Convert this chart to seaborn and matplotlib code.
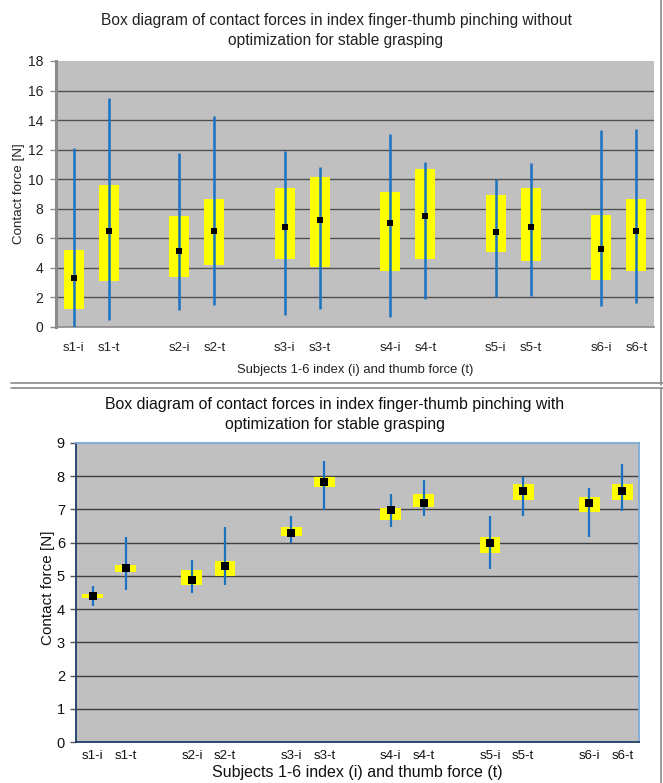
import numpy as np
import pandas as pd
import seaborn as sns
import matplotlib
matplotlib.use("Agg")
import matplotlib.pyplot as plt
from matplotlib.lines import Line2D

labels = ["s1-i", "s1-t", "s2-i", "s2-t", "s3-i", "s3-t",
          "s4-i", "s4-t", "s5-i", "s5-t", "s6-i", "s6-t"]

# without optimization
top_min = [0.0, 0.45, 1.13, 1.5, 0.8, 1.2, 0.68, 1.9, 2.03, 2.08, 1.42, 1.63]
top_q1 = [1.2, 3.1, 3.4, 4.18, 4.58, 4.06, 3.8, 4.58, 5.1, 4.47, 3.2, 3.8]
top_mean = [3.3, 6.5, 5.17, 6.5, 6.8, 7.23, 7.07, 7.5, 6.44, 6.8, 5.3, 6.5]
top_q3 = [5.24, 9.58, 7.5, 8.63, 9.4, 10.16, 9.15, 10.66, 8.9, 9.4, 7.59, 8.63]
top_max = [12.1, 15.5, 11.75, 14.25, 11.9, 10.8, 13.07, 11.18, 10.0, 11.09, 13.32, 13.4]

# with optimization
bot_min = [4.08, 4.57, 4.48, 4.72, 6.0, 6.98, 6.48, 6.8, 5.2, 6.8, 6.18, 6.96]
bot_q1 = [4.33, 5.12, 4.72, 5.0, 6.19, 7.67, 6.69, 7.06, 5.7, 7.28, 6.91, 7.28]
bot_mean = [4.4, 5.24, 4.89, 5.31, 6.29, 7.83, 6.98, 7.2, 5.99, 7.57, 7.2, 7.57]
bot_q3 = [4.45, 5.34, 5.19, 5.46, 6.47, 7.98, 7.04, 7.46, 6.17, 7.77, 7.37, 7.77]
bot_max = [4.69, 6.17, 5.47, 6.47, 6.8, 8.46, 7.46, 7.88, 6.8, 7.97, 7.65, 8.36]

sns.set_theme(style="white", rc={"axes.facecolor": "#c0c0c0"})
plt.rcParams["font.family"] = ["Liberation Sans", "DejaVu Sans"]

# two bars per subject, then an empty slot
pos = np.repeat(np.arange(6), 2) * 3 + np.tile([0, 1], 6)


def draw_panel(ax, lo, q1, mean, q3, hi, box_w, lw, ms, ymax, ystep, gridc):
    df = pd.DataFrame({"pos": pos, "lo": lo, "q1": q1, "mean": mean,
                       "q3": q3, "hi": hi})
    ax.set_xlim(-0.5, 16.5)
    ax.set_ylim(0, ymax)
    ax.set_yticks(np.arange(0, ymax + 0.01, ystep))
    for y in np.arange(ystep, ymax - 0.01, ystep):
        ax.axhline(y, color=gridc, lw=1.0, zorder=1)
    ax.bar(df["pos"], df["q3"] - df["q1"], bottom=df["q1"], width=box_w,
           color="#ffff00", linewidth=0, zorder=2)
    ax.vlines(df["pos"], df["lo"], df["hi"], color="#1a72c0", lw=lw, zorder=3)
    sns.scatterplot(data=df, x="pos", y="mean", marker="s", color="black",
                    s=ms, edgecolor="black", linewidth=0, zorder=4, ax=ax,
                    legend=False)
    ax.set_xticks(df["pos"])
    ax.set_xticklabels(labels)
    ax.set_xticks(np.arange(-0.5, 17, 1), minor=True)
    ax.tick_params(axis="x", which="major", length=0)
    ax.tick_params(axis="x", which="minor", length=4, width=1)
    ax.tick_params(axis="y", length=4, width=1, left=True)
    ax.set_xlabel("")
    ax.set_ylabel("")


fig = plt.figure(figsize=(6.63, 7.83), dpi=100)

ax1 = fig.add_axes([56 / 663, 456 / 783, 598 / 663, 266 / 783])
draw_panel(ax1, top_min, top_q1, top_mean, top_q3, top_max,
           0.57, 1.8, 18, 18, 2, "#505050")
for s in ["top", "right"]:
    ax1.spines[s].set_visible(False)
ax1.spines["left"].set_color("#8a8a8a")
ax1.spines["left"].set_linewidth(2.2)
ax1.spines["bottom"].set_color("#8a8a8a")
ax1.spines["bottom"].set_linewidth(1.2)
ax1.tick_params(axis="both", which="both", colors="#8a8a8a", labelcolor="#222222",
                labelsize=10, pad=5)
ax1.tick_params(axis="x", which="major", labelsize=9.5, pad=11)

ax2 = fig.add_axes([76 / 663, 41 / 783, 563 / 663, 299 / 783])
draw_panel(ax2, bot_min, bot_q1, bot_mean, bot_q3, bot_max,
           0.63, 1.6, 28, 9, 1, "#404040")
ax2.spines["left"].set_color("#1f3d66")
ax2.spines["bottom"].set_color("#1f3d66")
ax2.spines["top"].set_color("#7aaad8")
ax2.spines["right"].set_color("#7aaad8")
for s in ax2.spines.values():
    s.set_linewidth(1.3)
ax2.tick_params(axis="both", which="both", colors="#555555", labelcolor="#111111",
                labelsize=10.5, pad=4)
ax2.tick_params(axis="x", which="major", labelsize=9.5, pad=6)

# titles and axis labels
fig.text(336 / 663, 1 - 20 / 783,
         "Box diagram of contact forces in index finger-thumb pinching without",
         ha="center", va="center", fontsize=11.2, color="#222222")
fig.text(336 / 663, 1 - 40 / 783, "optimization for stable grasping",
         ha="center", va="center", fontsize=11.2, color="#222222")
fig.text(19 / 663, 1 - 194 / 783, "Contact force [N]", rotation=90,
         ha="center", va="center", fontsize=9.6, color="#222222")
fig.text(355 / 663, 1 - 370 / 783, "Subjects 1-6 index (i) and thumb force (t)",
         ha="center", va="center", fontsize=9.4, color="#222222")

fig.text(335 / 663, 1 - 405 / 783,
         "Box diagram of contact forces in index finger-thumb pinching with",
         ha="center", va="center", fontsize=11.4, color="#111111")
fig.text(335 / 663, 1 - 425 / 783, "optimization for stable grasping",
         ha="center", va="center", fontsize=11.4, color="#111111")
fig.text(48 / 663, 1 - 588 / 783, "Contact force [N]", rotation=90,
         ha="center", va="center", fontsize=11, color="#111111")
fig.text(357 / 663, 1 - 773 / 783, "Subjects 1-6 index (i) and thumb force (t)",
         ha="center", va="center", fontsize=11.5, color="#111111")

# frames around the two chart panels
fig.add_artist(Line2D([661 / 663, 661 / 663], [1 - 0 / 783, 1 - 385 / 783],
                      color="#8a8a8a", lw=1.2))
fig.add_artist(Line2D([11 / 663, 1.0], [1 - 383 / 783, 1 - 383 / 783],
                      color="#8a8a8a", lw=1.2))
fig.add_artist(Line2D([11 / 663, 1.0], [1 - 388 / 783, 1 - 388 / 783],
                      color="#8a8a8a", lw=1.2))
fig.add_artist(Line2D([661 / 663, 661 / 663], [1 - 388 / 783, 0],
                      color="#8a8a8a", lw=1.2))

fig.savefig("out.png", dpi=100)
